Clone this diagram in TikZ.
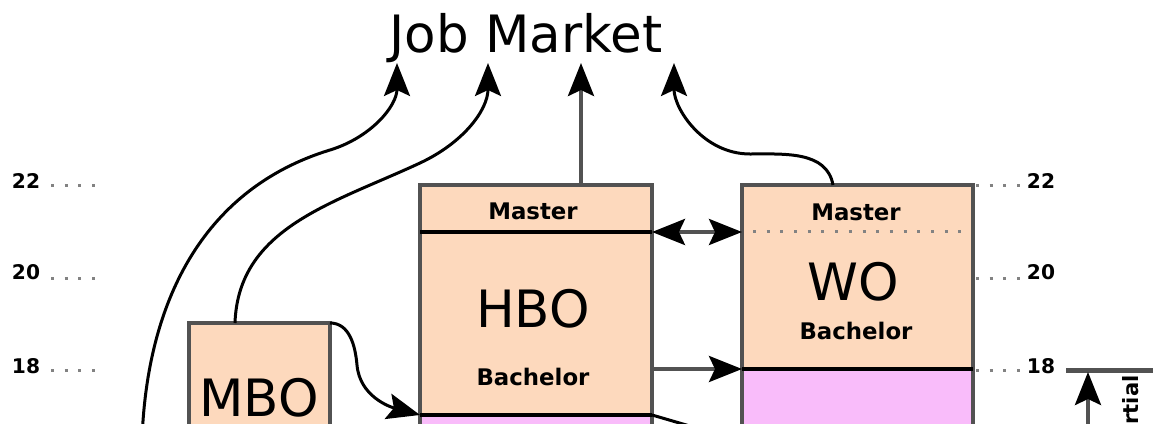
\documentclass[tikz,border=0pt]{standalone}
\usepackage{fontspec}
\setmainfont{DejaVu Sans}
\usetikzlibrary{arrows.meta}
\definecolor{peach}{RGB}{253,217,189}
\definecolor{lilac}{RGB}{249,188,250}
\definecolor{edge}{RGB}{82,82,82}
\definecolor{dotgray}{RGB}{130,130,130}

\begin{document}
\begin{tikzpicture}[x=0.02cm,y=0.02cm,
		>={Stealth[length=0.66cm,width=0.52cm,inset=0.12cm,color=black]},
		big/.style={font=\fontsize{29.3}{34}\selectfont,inner sep=0pt},
		small/.style={font=\fontsize{13}{15}\selectfont\bfseries},
		age/.style={font=\fontsize{11.5}{13}\selectfont\bfseries},
		block/.style={draw=edge,line width=0.08cm,fill=peach,inner sep=0pt,outer sep=0pt,anchor=north west},
		lower/.style={block,fill=lilac},
		sep/.style={line width=0.08cm},
		dotline/.style={dotgray,line width=0.06cm,dash pattern=on 0.06cm off 0.214cm},
		flow/.style={->,line width=0.06cm},
		link/.style={->,edge,line width=0.08cm}]
		\useasboundingbox (0,0) rectangle (1153,-423);
		\node[big,anchor=base] (jm) at (526,-52) {Job Market};
		\coordinate (t1) at (397,-63);
		\coordinate (t2) at (488,-63);
		\coordinate (t3) at (581,-63);
		\coordinate (t4) at (674,-63);
		\node[block,minimum width=4.64cm,minimum height=0.94cm] (hbom) at (420,-185) {};
		\node[block,minimum width=4.64cm,minimum height=3.66cm] (hbob) at (420,-232) {};
		\node[lower,minimum width=4.64cm,minimum height=1.4cm] (hbol) at (420,-415) {};
		\node[small] (hbomast) at (533,-211) {Master};
		\node[big] (hbo) at (533,-309) {HBO};
		\node[small] (hbobach) at (533,-377) {Bachelor};
		\node[block,minimum width=4.62cm,minimum height=3.68cm] (wo) at (742,-185) {};
		\node[lower,minimum width=4.62cm,minimum height=1.2cm] (wol) at (742,-369) {};
		\node[small] (womast) at (856,-212) {Master};
		\node[big] (wolbl) at (853,-282) {WO};
		\node[small] (wobach) at (856,-331) {Bachelor};
		\node[block,minimum width=2.82cm,minimum height=3.2cm] (mbo) at (189,-323) {};
		\node[big] (mbolbl) at (259,-398) {MBO};
		\draw[sep] (hbom.south west) -- (hbom.south east);
		\draw[sep] (hbol.north west) -- (hbol.north east);
		\draw[sep] (wol.north west) -- (wol.north east);
		\draw[dotline] (753,-231) -- (970,-231);
		\foreach \a/\y/\d in {22/181/185,20/272/278,18/366/370}{
			\node[age] (l\a) at (26,-\y) {\a};
			\node[age] (r\a) at (1041,-\y) {\a};
			\draw[dotline] (51,-\d) -- (97,-\d);
			\draw[dotline] (976,-\d) -- (1020,-\d);
		}
		\coordinate (s1) at (142,-440);
		\draw[flow] (s1) to[out=88,in=197] (330,-150) to[out=17,in=-90] (t1);
		\draw[flow] ([xshift=-0.49cm]mbo.north) to[out=88,in=205] (420,-163) to[out=25,in=-90] (t2);
		\draw[link] (hbom.north -| t3) -- (t3);
		\draw[flow] ([xshift=-0.49cm]wo.north) to[out=100,in=0] (750,-154) to[out=180,in=-90] (t4);
		\draw[flow] (mbo.north east) to[out=0,in=95] (357,-365) to[out=-85,in=165] (hbob.south west);
		\draw[link,<->] (hbom.south east) -- (hbom.south east -| wo.west);
		\draw[link] (hbob.east |- wol.north west) -- (wol.north west);
		\coordinate (c5) at (700,-429);
		\draw[line width=0.06cm] (hbob.south east) -- (c5);
		\coordinate (s6) at (1088,-440);
		\coordinate (t6) at (1088,-372);
		\draw[edge,line width=0.1cm] (1066,-370) -- (1160,-370);
		\draw[link] (s6) -- (t6);
		\node[font=\fontsize{12}{14}\selectfont\bfseries,rotate=90,anchor=east,inner sep=0pt] (part) at (1131,-375) {rtial};
	\end{tikzpicture}
\end{document}
